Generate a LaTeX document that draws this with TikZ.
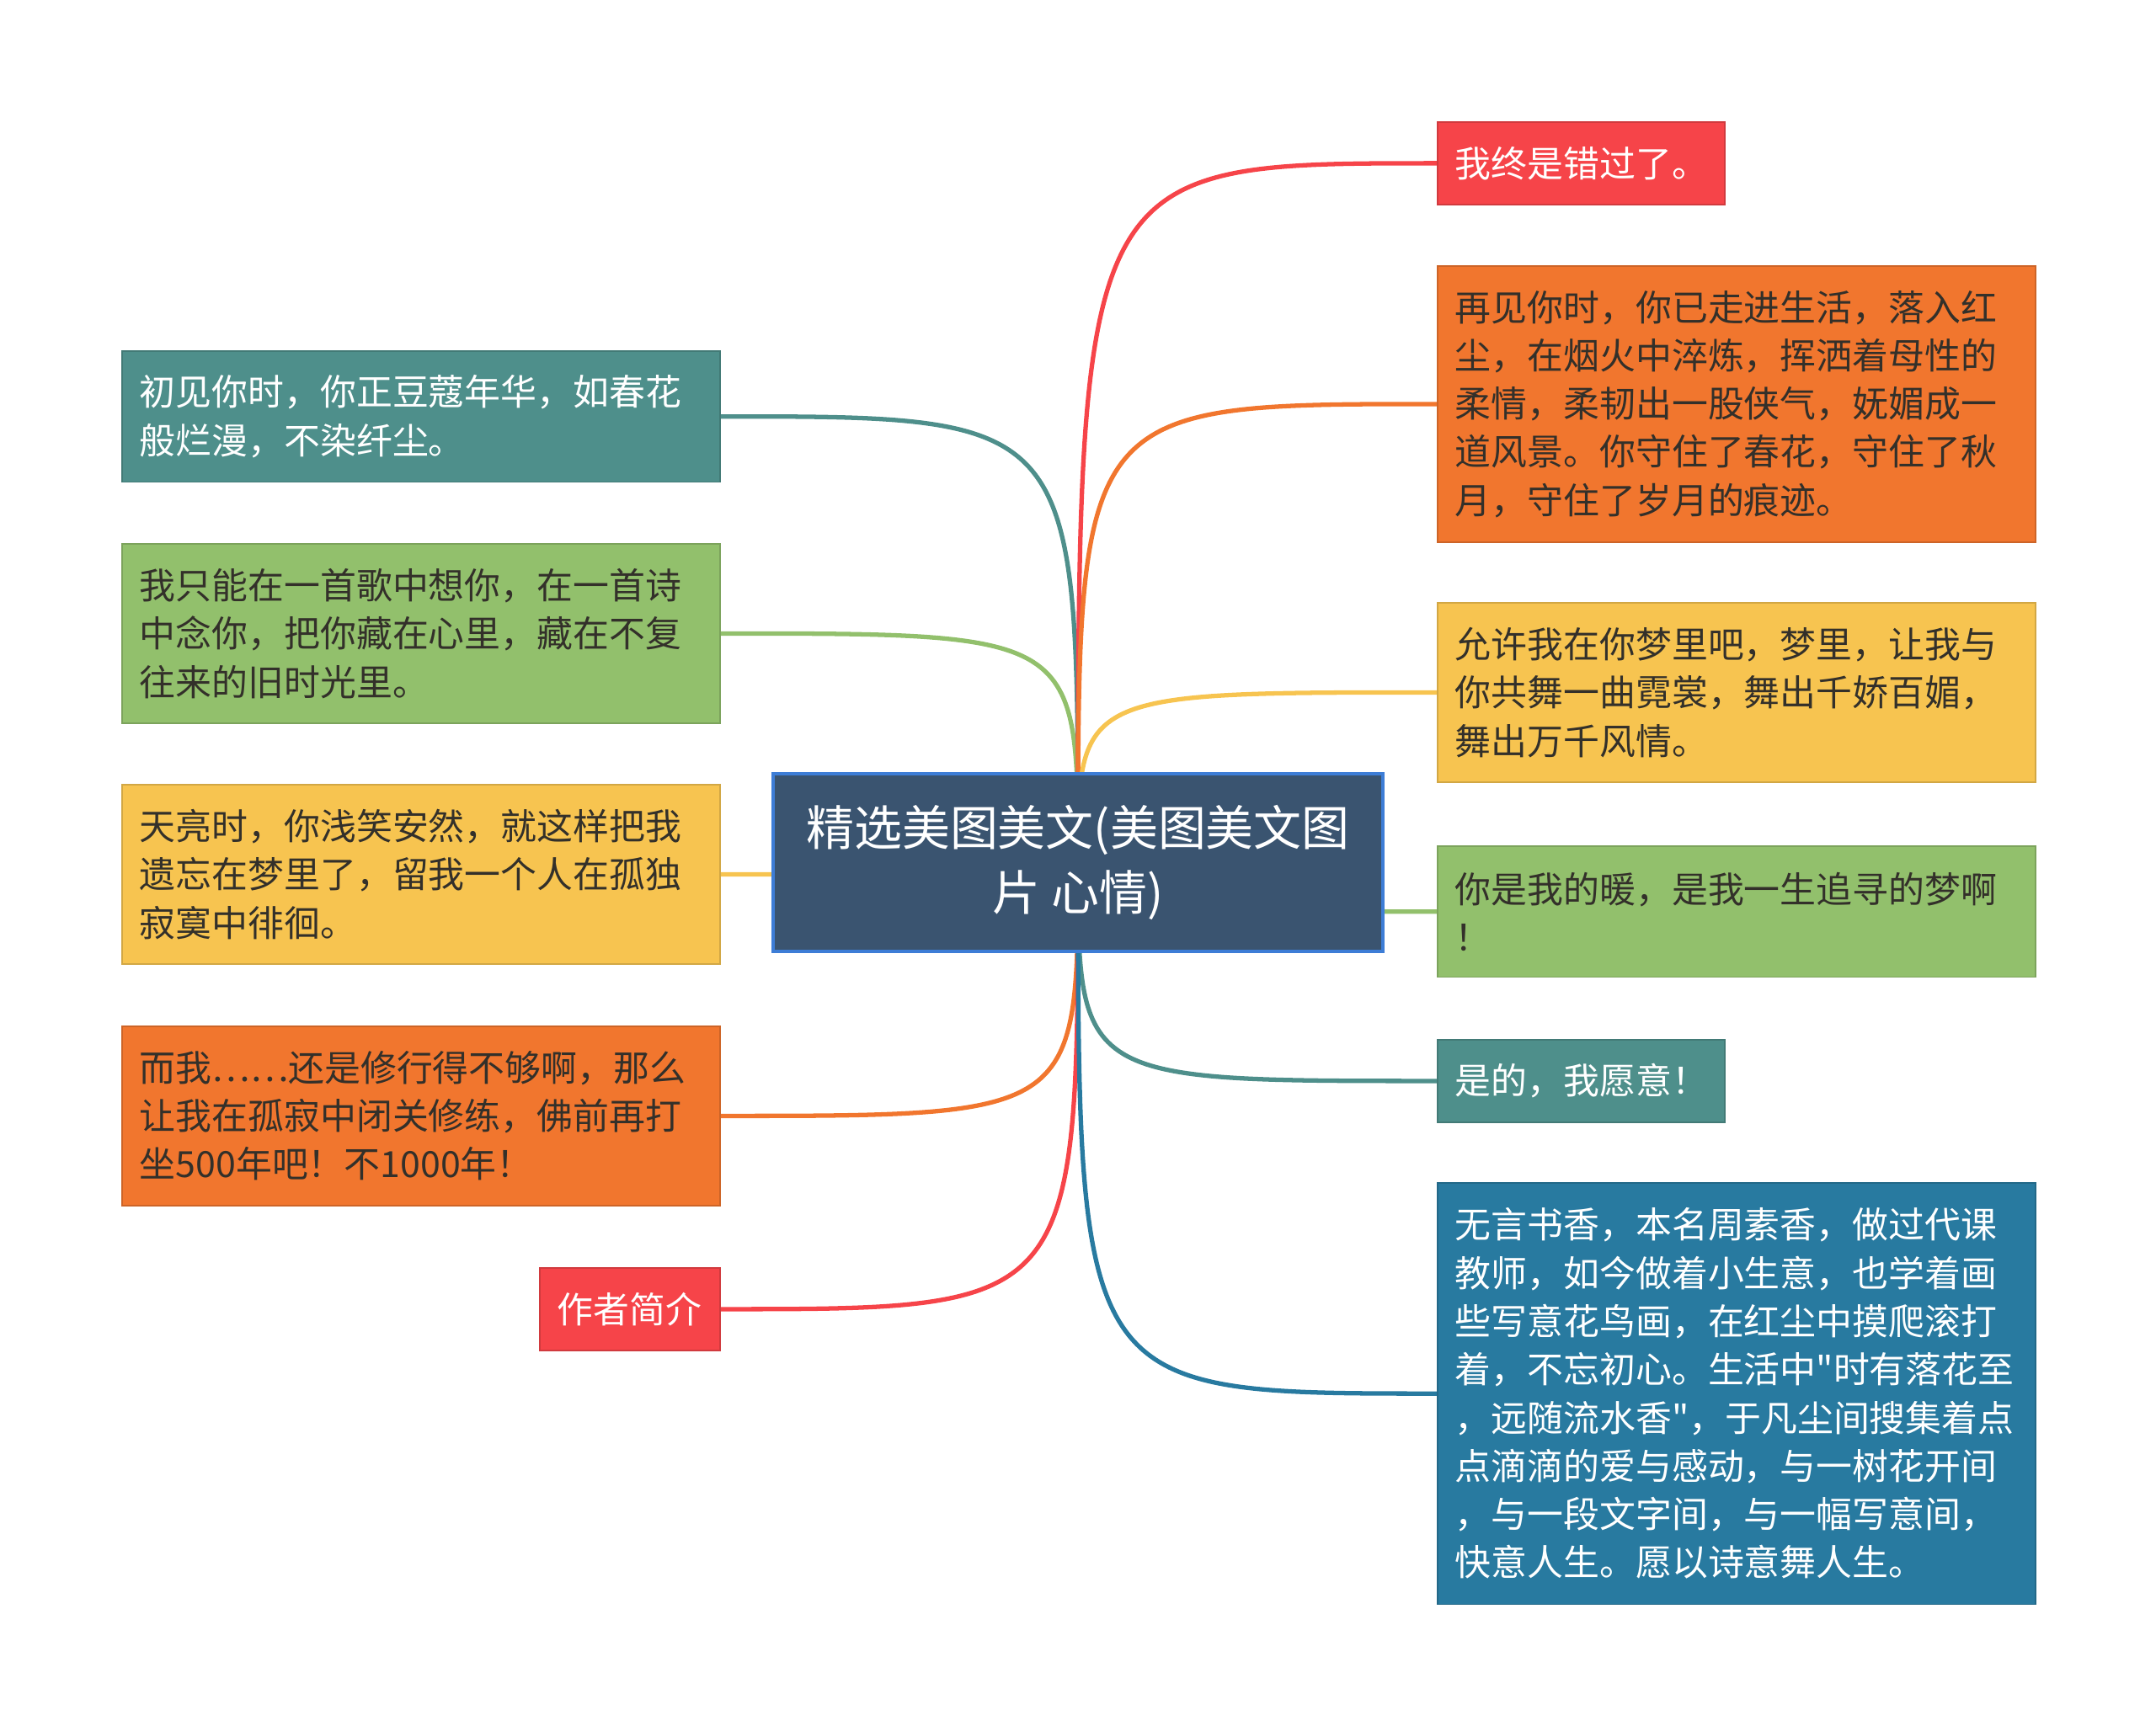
\documentclass[tikz,border=0pt]{standalone}
\usepackage{fontspec}
\newfontfamily\cjkfont{Noto Sans CJK SC}
\usetikzlibrary{backgrounds}
\definecolor{mmteal}{HTML}{4E8F8B}
\definecolor{mmgreen}{HTML}{92C06C}
\definecolor{mmyellow}{HTML}{F7C450}
\definecolor{mmorange}{HTML}{F1762E}
\definecolor{mmred}{HTML}{F64449}
\definecolor{mmblue}{HTML}{287AA0}
\definecolor{mmslate}{HTML}{3A5470}
\definecolor{mmrim}{HTML}{3D7DD6}
\definecolor{mmdark}{HTML}{33302A}

\begin{document}
\begin{tikzpicture}[x=1cm,y=1cm,
  leaf/.style={anchor=north west,fill=#1,draw=#1!85!black,line width=0.5pt,
    inner xsep=0.21cm,inner ysep=0pt,align=left,
    font=\cjkfont\fontsize{12.2pt}{16.3pt}\selectfont},
  wide/.style={text width=6.68cm},
  short/.style={text width=2.99cm},
  hub/.style={fill=mmslate,draw=mmrim,line width=1pt,text=white,align=center,
    minimum width=7.24cm,minimum height=2.11cm,inner sep=0pt,
    font=\cjkfont\fontsize{16.2pt}{21.9pt}\selectfont},
  link/.style={draw=#1,line width=1.5pt}]
  \useasboundingbox (0,0) rectangle (25.6,-20.49);

  \node[hub] (ctr) at (12.80,-10.245) {精选美图美文(美图美文图\\片 心情)};

  \node[leaf=mmteal,wide,text=white,minimum height=1.555cm] (l1) at (1.44,-4.16)
    {初见你时，你正豆蔻年华，如春花\\般烂漫，不染纤尘。};
  \node[leaf=mmgreen,wide,text=mmdark,minimum height=2.13cm] (l2) at (1.44,-6.45)
    {我只能在一首歌中想你，在一首诗\\中念你，把你藏在心里，藏在不复\\往来的旧时光里。};
  \node[leaf=mmyellow,wide,text=mmdark,minimum height=2.13cm] (l3) at (1.44,-9.31)
    {天亮时，你浅笑安然，就这样把我\\遗忘在梦里了，留我一个人在孤独\\寂寞中徘徊。};
  \node[leaf=mmorange,wide,text=mmdark,minimum height=2.13cm] (l4) at (1.44,-12.18)
    {而我……还是修行得不够啊，那么\\让我在孤寂中闭关修练，佛前再打\\坐500年吧！不1000年！};
  \node[leaf=mmred,text width=1.72cm,text=white,minimum height=0.98cm] (l5) at (6.40,-15.05)
    {作者简介};

  \node[leaf=mmred,short,text=white,minimum height=0.98cm] (r1) at (17.06,-1.44)
    {我终是错过了。};
  \node[leaf=mmorange,wide,text=mmdark,minimum height=3.28cm] (r2) at (17.06,-3.15)
    {再见你时，你已走进生活，落入红\\尘，在烟火中淬炼，挥洒着母性的\\柔情，柔韧出一股侠气，妩媚成一\\道风景。你守住了春花，守住了秋\\月，守住了岁月的痕迹。};
  \node[leaf=mmyellow,wide,text=mmdark,minimum height=2.13cm] (r3) at (17.06,-7.15)
    {允许我在你梦里吧，梦里，让我与\\你共舞一曲霓裳，舞出千娇百媚，\\舞出万千风情。};
  \node[leaf=mmgreen,wide,text=mmdark,minimum height=1.555cm] (r4) at (17.06,-10.04)
    {你是我的暖，是我一生追寻的梦啊\\！};
  \node[leaf=mmteal,short,text=white,minimum height=0.98cm] (r5) at (17.06,-12.34)
    {是的，我愿意！};
  \node[leaf=mmblue,wide,text=white,minimum height=5.005cm] (r6) at (17.06,-14.04)
    {无言书香，本名周素香，做过代课\\教师，如今做着小生意，也学着画\\些写意花鸟画，在红尘中摸爬滚打\\着，不忘初心。生活中"时有落花至\\，远随流水香"，于凡尘间搜集着点\\点滴滴的爱与感动，与一树花开间\\，与一段文字间，与一幅写意间，\\快意人生。愿以诗意舞人生。};

  \begin{scope}[on background layer]
    \draw[link=mmteal] (l1.east) .. controls (ctr |- l1.east) .. (ctr.center);
    \draw[link=mmgreen] (l2.east) .. controls (ctr |- l2.east) .. (ctr.center);
    \draw[link=mmyellow] (l3.east) .. controls (ctr |- l3.east) .. (ctr.center);
    \draw[link=mmorange] (l4.east) .. controls (ctr |- l4.east) .. (ctr.center);
    \draw[link=mmred] (l5.east) .. controls (ctr |- l5.east) .. (ctr.center);
    \draw[link=mmred] (r1.west) .. controls (ctr |- r1.west) .. (ctr.center);
    \draw[link=mmorange] (r2.west) .. controls (ctr |- r2.west) .. (ctr.center);
    \draw[link=mmyellow] (r3.west) .. controls (ctr |- r3.west) .. (ctr.center);
    \draw[link=mmgreen] (r4.west) .. controls (ctr |- r4.west) .. (ctr.center);
    \draw[link=mmteal] (r5.west) .. controls (ctr |- r5.west) .. (ctr.center);
    \draw[link=mmblue] (r6.west) .. controls (ctr |- r6.west) .. (ctr.center);
  \end{scope}
\end{tikzpicture}
\end{document}
